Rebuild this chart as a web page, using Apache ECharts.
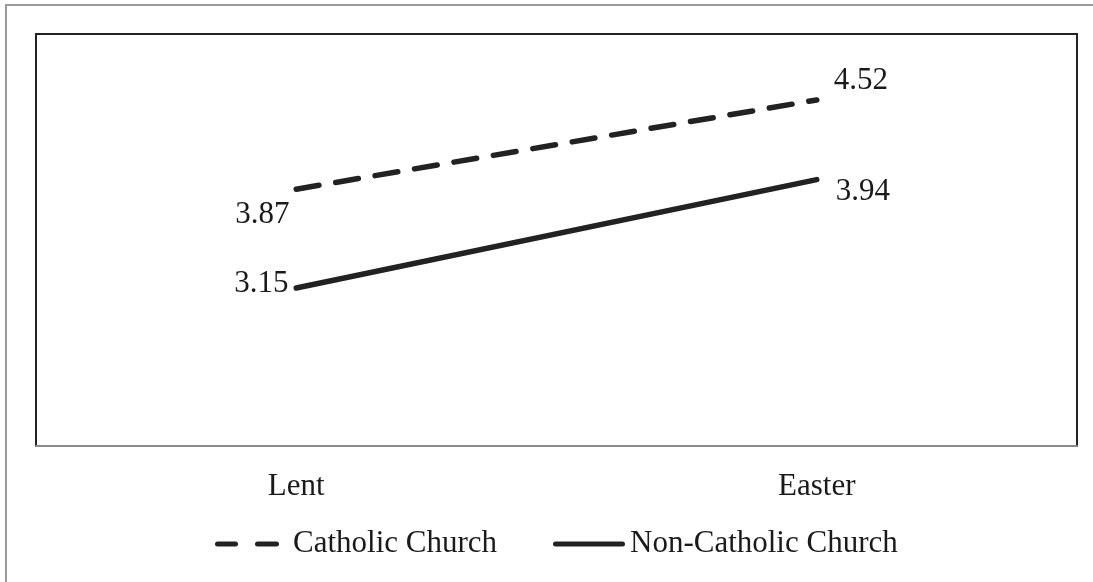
<!DOCTYPE html>
<html>
<head>
<meta charset="utf-8">
<style>
  html, body { margin: 0; padding: 0; background: #fff; }
  #chart { width: 1093px; height: 582px; }
</style>
<script src="https://cdn.jsdelivr.net/npm/echarts@6/dist/echarts.min.js"></script>
</head>
<body>
<div id="chart"></div>
<script>
// Periods on the horizontal axis
const periods = ['Lent', 'Easter'];
// Mean scores per group
const catholic = [3.87, 4.52];
const nonCatholic = [3.15, 3.94];
// Value-label placement per point: [dx, dy] from the point
const catholicLabelOffsets = [[-34, 26], [44, -19]];
const nonCatholicLabelOffsets = [[-35, -4], [46, 12]];

const FONT = '"Liberation Serif", "Times New Roman", serif';
const INK = '#1a1a1a';
const LINE = '#222';

// Legend keys: two rounded dashes, and one rounded bar
const DASH_ICON = 'path://M2.5,0H20.5A2.5,2.5 0 0 1 20.5,5H2.5A2.5,2.5 0 0 1 2.5,0Z' +
                  'M42.5,0H61.5A2.5,2.5 0 0 1 61.5,5H42.5A2.5,2.5 0 0 1 42.5,0Z';
const SOLID_ICON = 'path://M2.5,0H69.5A2.5,2.5 0 0 1 69.5,5H2.5A2.5,2.5 0 0 1 2.5,0Z';

function withLabels(values, offsets) {
  return values.map((v, i) => ({
    value: v,
    label: { show: true, position: 'inside', offset: offsets[i] }
  }));
}

const chart = echarts.init(document.getElementById('chart'), null, { renderer: 'canvas' });

const valueLabel = {
  fontFamily: FONT, fontSize: 31, color: INK,
  formatter: p => p.value.toFixed(2)
};

chart.setOption({
  backgroundColor: '#fff',
  animation: false,
  graphic: [{
    type: 'rect',
    silent: true,
    shape: { x: 6, y: 5, width: 1200, height: 700 },
    style: { fill: 'none', stroke: '#9a9a9a', lineWidth: 2 }
  }],
  grid: {
    left: 36, top: 34, right: 16, bottom: 136,
    show: true, borderColor: LINE, borderWidth: 2,
    backgroundColor: 'transparent'
  },
  xAxis: {
    type: 'category',
    data: periods,
    boundaryGap: true,
    axisLine: { show: true, lineStyle: { color: '#8a8a8a', width: 2 } },
    axisTick: { show: false },
    splitLine: { show: false },
    axisLabel: { margin: 25, fontFamily: FONT, fontSize: 31, color: INK }
  },
  yAxis: {
    type: 'value',
    min: 2, max: 5,
    show: false,
    splitLine: { show: false }
  },
  legend: [{
    data: [{ name: 'Catholic Church', icon: DASH_ICON }],
    left: 215, top: 526, padding: 0,
    itemWidth: 64, itemHeight: 5,
    itemStyle: { color: LINE },
    textStyle: { fontFamily: FONT, fontSize: 31, color: INK, padding: [0, 0, 0, 9], lineHeight: 36 }
  }, {
    data: [{ name: 'Non-Catholic Church', icon: SOLID_ICON }],
    left: 553, top: 526, padding: 0,
    itemWidth: 72, itemHeight: 5,
    itemStyle: { color: LINE },
    textStyle: { fontFamily: FONT, fontSize: 31, color: INK, lineHeight: 36 }
  }],
  series: [{
    name: 'Catholic Church',
    type: 'line',
    data: withLabels(catholic, catholicLabelOffsets),
    symbol: 'circle',
    symbolSize: 1,
    showSymbol: true,
    itemStyle: { color: LINE },
    lineStyle: { color: LINE, width: 5.5, type: [23, 17], cap: 'round' },
    label: valueLabel
  }, {
    name: 'Non-Catholic Church',
    type: 'line',
    data: withLabels(nonCatholic, nonCatholicLabelOffsets),
    symbol: 'circle',
    symbolSize: 1,
    showSymbol: true,
    itemStyle: { color: LINE },
    lineStyle: { color: LINE, width: 5.5, type: 'solid', cap: 'round' },
    label: valueLabel
  }]
});
</script>
</body>
</html>
